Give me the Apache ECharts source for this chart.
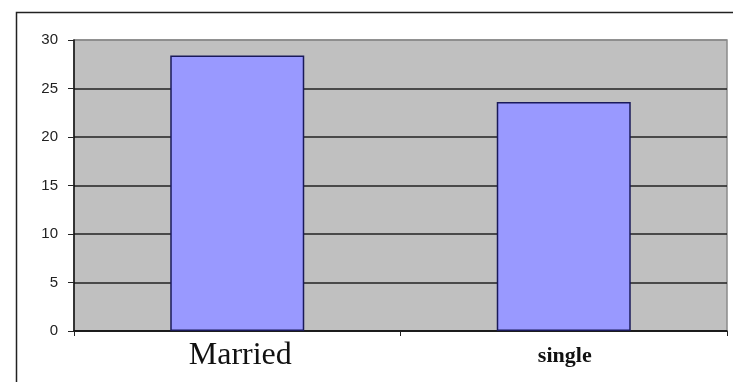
<!DOCTYPE html>
<html>
<head>
<meta charset="utf-8">
<script src="https://cdn.jsdelivr.net/npm/echarts@6/dist/echarts.min.js"></script>
<style>
html,body{margin:0;padding:0;background:#fff;}
#c{width:733px;height:382px;}
</style>
</head>
<body>
<div id="c"></div>
<script>
var categories = ['Married', 'single'];
var values = [28.4, 23.6];
var yTicks = [0, 5, 10, 15, 20, 25, 30];

var chart = echarts.init(document.getElementById('c'), null, {renderer: 'canvas'});
chart.setOption({
  animation: false,
  backgroundColor: '#ffffff',
  graphic: [{
    type: 'rect',
    left: 14, top: 10,
    shape: {width: 800, height: 500},
    style: {fill: 'none', stroke: '#222', lineWidth: 1.5},
    z: -10
  }],
  grid: {
    left: 74, top: 40, right: 6, bottom: 51,
    show: true, backgroundColor: '#c0c0c0', borderColor: '#8a8a8a', borderWidth: 1.5
  },
  xAxis: {
    type: 'category',
    data: categories,
    boundaryGap: true,
    axisLine: {lineStyle: {color: '#111', width: 1.5}},
    axisTick: {show: true, length: 5, lineStyle: {color: '#222'}},
    axisLabel: {
      margin: 9,
      formatter: function (v) { return v === 'Married' ? '{a|' + v + '}' : '{b|' + v + '}'; },
      rich: {
        a: {fontFamily: 'Liberation Serif', fontSize: 32, color: '#111', padding: [0, 0, 0, 6]},
        b: {fontFamily: 'Liberation Serif', fontSize: 22, fontWeight: 'bold', color: '#111', padding: [5, 0, 0, 2]}
      }
    }
  },
  yAxis: {
    type: 'value',
    min: yTicks[0], max: yTicks[yTicks.length - 1], interval: 5,
    axisLine: {show: true, lineStyle: {color: '#111', width: 1.5}},
    axisTick: {show: true, length: 6, lineStyle: {color: '#222'}},
    axisLabel: {margin: 16, fontFamily: 'Liberation Sans', fontSize: 15, color: '#222'},
    splitLine: {show: true, lineStyle: {color: ['#222', '#222', '#222', '#222', '#222', '#222', '#8a8a8a'], width: 1.5}}
  },
  series: [{
    type: 'bar',
    data: values,
    barWidth: 134,
    itemStyle: {color: '#9999ff', borderColor: '#1a1a5a', borderWidth: 1.5}
  }]
});
</script>
</body>
</html>
